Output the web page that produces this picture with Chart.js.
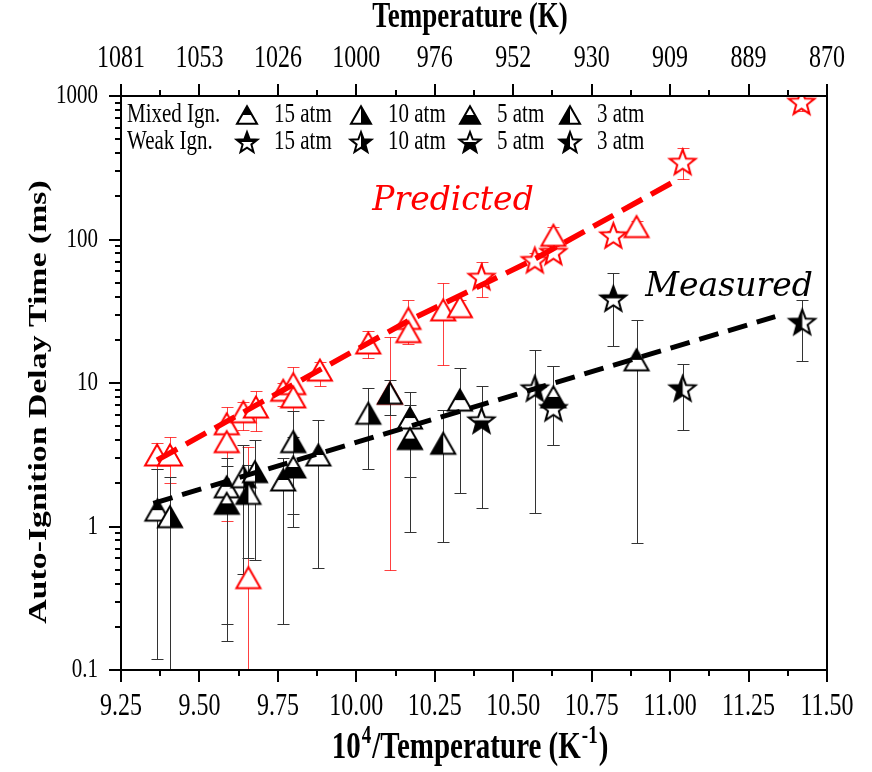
<!DOCTYPE html>
<html>
<head>
<meta charset="utf-8">
<script src="https://cdn.jsdelivr.net/npm/chart.js@4.4.0/dist/chart.umd.min.js"></script>
<style>
    html, body { margin: 0; padding: 0; background: #fff; }
    #wrap { width: 872px; height: 772px; }
</style>
</head>
<body>
<div id="wrap"><canvas id="chart" width="872" height="772"></canvas></div>
<script>
// values (x = 10^4/T, y = delay in ms)
var predTriX  = [9.365, 9.406, 9.587, 9.587, 9.640, 9.680, 9.656, 9.767, 9.799, 9.799, 9.884, 10.038, 10.107, 10.166, 10.166, 10.277, 10.330, 10.628, 10.893];
var predTriY  = [3.15, 3.15, 5.2, 3.9, 6.3, 6.8, 0.44, 8.9, 9.9, 8.0, 12.3, 19.0, 8.5, 28.2, 22.8, 32.3, 34.0, 107, 123];
var predTriLo = [2.5, 2.0, 4.9, 1.1, 4.7, 4.6, 0.08, 6.9, 3.4, 7.1, 9.6, 14.9, 0.5, 22, 18.7, 13.3, 30, 95, 105];
var predTriHi = [3.8, 4.2, 6.8, 4.6, 7.4, 8.8, 3.6, 10.0, 13, 9.5, 14, 23, 21, 38, 27, 50, 38, 123, 135];

var predStarX  = [10.399, 10.569, 10.628, 10.819, 11.040, 11.419];
var predStarY  = [55, 72, 82, 107, 348, 912];
var predStarLo = [40, 66, 75, 100, 263, 780];
var predStarHi = [70, 80, 90, 114, 433, 1000];

var mixX   = [9.366, 9.406, 9.587, 9.587, 9.640, 9.656, 9.677, 9.767, 9.799, 9.799, 9.879, 10.038, 10.107, 10.171, 10.171, 10.277, 10.330, 10.628, 10.893];
var mixY   = [1.30, 1.17, 1.89, 1.45, 2.22, 1.70, 2.41, 2.11, 3.9, 2.6, 3.15, 6.15, 8.5, 5.7, 4.1, 3.8, 7.6, 8.0, 14.5];
var mixLo  = [0.12, 0.09, 0.21, 0.16, 0.47, 0.6, 0.58, 0.21, 1.22, 1.0, 0.51, 2.5, 6.0, 2.2, 0.91, 0.78, 1.7, 3.7, 0.77];
var mixHi  = [2.5, 2.2, 3.0, 2.66, 3.7, 2.7, 4.0, 3.0, 6.4, 4.2, 5.5, 9.3, 10.5, 8.6, 7.0, 6.5, 12.8, 13.2, 27.5];
var mixAtm = [15, 10, 15, 5, 10, 3, 10, 15, 10, 5, 15, 10, 3, 15, 5, 3, 15, 5, 15];

var weakX   = [10.399, 10.569, 10.628, 10.819, 11.040, 11.421];
var weakY   = [5.5, 9.2, 6.7, 38.9, 9.2, 26.7];
var weakLo  = [1.35, 1.25, 3.7, 18.1, 4.7, 14.3];
var weakHi  = [9.6, 17, 13.2, 58, 13.5, 37.9];
var weakAtm = [5, 10, 15, 15, 3, 3];

var predFitX = [9.365, 9.766, 10.171, 10.563, 11.022];
var predFitY = [2.9, 8.9, 27.5, 72, 260];
var measFitX = [9.353, 11.335];
var measFitY = [1.45, 29];

var tempLabels = ['1081', '1053', '1026', '1000', '976', '952', '930', '909', '889', '870'];
var atmLevels = [15, 10, 5, 3];

// which half of a marker is filled for each pressure
var halfByAtm = {15: 'top', 10: 'right', 5: 'bottom', 3: 'left'};

var SERIF = "'Liberation Serif', 'Times New Roman', serif";
var STRETCH = 1.3; // the source figure is taller than wide

function toPoints(xs, ys) {
    return xs.map(function (x, i) { return {x: x, y: ys[i]}; });
}

function markerCanvas(shape, half, color, size) {
    var W = Math.ceil(size + 8);
    var c = document.createElement('canvas');
    c.width = W; c.height = W;
    var g = c.getContext('2d');
    var cx = W / 2, cy = W / 2;

    function path() {
        g.beginPath();
        if (shape === 'tri') {
            var h = size * 0.87;
            g.moveTo(cx, cy - h / 2);
            g.lineTo(cx + size / 2, cy + h / 2);
            g.lineTo(cx - size / 2, cy + h / 2);
        } else {
            var R = size / 2, r = R * 0.42, off = R * 0.095;
            for (var i = 0; i < 10; i++) {
                var rr = i % 2 ? r : R;
                var ang = -Math.PI / 2 + i * Math.PI / 5;
                g.lineTo(cx + rr * Math.cos(ang), cy + off + rr * Math.sin(ang));
            }
        }
        g.closePath();
    }

    path();
    g.fillStyle = '#fff';
    g.fill();
    if (half) {
        g.save();
        g.beginPath();
        if (half === 'top') g.rect(0, 0, W, cy);
        if (half === 'bottom') g.rect(0, cy, W, W - cy);
        if (half === 'left') g.rect(0, 0, cx, W);
        if (half === 'right') g.rect(cx, 0, W - cx, W);
        g.clip();
        path();
        g.fillStyle = color;
        g.fill();
        g.restore();
    }
    path();
    g.lineWidth = 2;
    g.strokeStyle = color;
    g.stroke();
    return c;
}

var redTri = markerCanvas('tri', null, '#ff0000', 24);
var redStar = markerCanvas('star', null, '#ff0000', 27);
var triMarks = {}, starMarks = {}, legTri = {}, legStar = {};
atmLevels.forEach(function (p) {
    triMarks[p] = markerCanvas('tri', halfByAtm[p], '#000', 24);
    starMarks[p] = markerCanvas('star', halfByAtm[p], '#000', 27);
    legTri[p] = markerCanvas('tri', halfByAtm[p], '#000', 20);
    legStar[p] = markerCanvas('star', halfByAtm[p], '#000', 22);
});

function stretchedText(ctx, text, x, y, font, color, align) {
    ctx.save();
    ctx.translate(x, y);
    ctx.scale(1, STRETCH);
    ctx.font = font;
    ctx.fillStyle = color;
    ctx.textAlign = align || 'left';
    ctx.textBaseline = 'middle';
    ctx.fillText(text, 0, 0);
    ctx.restore();
}

function drawErrorBars(chart, xs, lo, hi, color) {
    var ctx = chart.ctx, sx = chart.scales.x, sy = chart.scales.y, a = chart.chartArea;
    ctx.save();
    ctx.beginPath();
    ctx.rect(a.left, a.top, a.right - a.left, a.bottom - a.top);
    ctx.clip();
    ctx.strokeStyle = color;
    ctx.lineWidth = 1;
    for (var i = 0; i < xs.length; i++) {
        var px = Math.round(sx.getPixelForValue(xs[i])) + 0.5;
        var p1 = Math.round(sy.getPixelForValue(lo[i])) + 0.5;
        var p2 = Math.round(sy.getPixelForValue(hi[i])) + 0.5;
        ctx.beginPath();
        ctx.moveTo(px, p1); ctx.lineTo(px, p2);
        ctx.moveTo(px - 6, p1); ctx.lineTo(px + 6, p1);
        ctx.moveTo(px - 6, p2); ctx.lineTo(px + 6, p2);
        ctx.stroke();
    }
    ctx.restore();
}

var errorBarPlugin = {
    id: 'errorBars',
    beforeDatasetsDraw: function (chart) {
        drawErrorBars(chart, predTriX, predTriLo, predTriHi, 'rgba(255,0,0,0.75)');
        drawErrorBars(chart, predStarX, predStarLo, predStarHi, 'rgba(255,0,0,0.75)');
        drawErrorBars(chart, mixX, mixLo, mixHi, '#333');
        drawErrorBars(chart, weakX, weakLo, weakHi, '#333');
    }
};

var framePlugin = {
    id: 'frame',
    afterDraw: function (chart) {
        var ctx = chart.ctx, a = chart.chartArea;
        var sx = chart.scales.x, sx2 = chart.scales.x2, sy = chart.scales.y;
        ctx.save();
        ctx.strokeStyle = '#000';
        ctx.lineWidth = 2;
        ctx.strokeRect(a.left, a.top, a.right - a.left, a.bottom - a.top);

        // major + minor ticks, pointing out of the frame
        ctx.beginPath();
        for (var k = 0; k <= 18; k++) {
            var px = Math.round(sx.getPixelForValue(9.25 + k * 0.125));
            var len = k % 2 ? 6 : 12;
            ctx.moveTo(px, a.bottom); ctx.lineTo(px, a.bottom + len);
            ctx.moveTo(px, a.top); ctx.lineTo(px, a.top - len);
        }
        for (var d = -1; d <= 3; d++) {
            for (var m = 1; m <= 9; m++) {
                var v = m * Math.pow(10, d);
                if (v > 1000.001) break;
                var py = Math.round(sy.getPixelForValue(v));
                ctx.moveTo(a.left, py); ctx.lineTo(a.left - (m === 1 ? 12 : 6), py);
            }
        }
        ctx.stroke();

        // tick labels from the scales' own ticks (drawn tall like the source)
        var xf = '24px ' + SERIF, yf = '21px ' + SERIF;
        sx.ticks.forEach(function (t) {
            stretchedText(ctx, t.value.toFixed(2), sx.getPixelForValue(t.value), 707, xf, '#000', 'center');
        });
        sx2.ticks.forEach(function (t) {
            stretchedText(ctx, tempLabels[Math.round((t.value - 9.25) / 0.25)], sx2.getPixelForValue(t.value), 59, xf, '#000', 'center');
        });
        sy.ticks.forEach(function (t) {
            var l = Math.log10(t.value);
            if (Math.abs(l - Math.round(l)) < 1e-6) {
                stretchedText(ctx, String(+t.value.toPrecision(3)), 98, sy.getPixelForValue(t.value), yf, '#000', 'right');
            }
        });

        var cx = (a.left + a.right) / 2;
        // top title
        stretchedText(ctx, 'Temperature (K)', cx - 4, 18, 'bold 27px ' + SERIF, '#000', 'center');

        // bottom title with superscripts
        var parts = [['10', false], ['4', true], ['/Temperature (K', false], ['-1', true], [')', false]];
        var big = 'bold 29px ' + SERIF, small = 'bold 19px ' + SERIF;
        var total = 0;
        parts.forEach(function (p) { ctx.font = p[1] ? small : big; total += ctx.measureText(p[0]).width + (p[1] ? 2 : 0); });
        var tx = cx - 4 - total / 2;
        parts.forEach(function (p) {
            ctx.font = p[1] ? small : big;
            var w = ctx.measureText(p[0]).width + (p[1] ? 2 : 0);
            stretchedText(ctx, p[0], tx + (p[1] ? 1 : 0), p[1] ? 737 : 748, p[1] ? small : big, '#000', 'left');
            tx += w;
        });

        // y title, stretched along its length
        ctx.save();
        ctx.translate(39, 402);
        ctx.rotate(-Math.PI / 2);
        ctx.scale(STRETCH, 1);
        ctx.font = 'bold 26px ' + SERIF;
        ctx.fillStyle = '#000';
        ctx.textAlign = 'center';
        ctx.textBaseline = 'middle';
        ctx.fillText('Auto-Ignition Delay Time (ms)', 0, 0);
        ctx.restore();

        // legend inside the frame
        var lf = '21px ' + SERIF;
        var row1 = a.top + 19, row2 = a.top + 46;
        stretchedText(ctx, 'Mixed Ign.', a.left + 6, row1, lf, '#000');
        stretchedText(ctx, 'Weak Ign.', a.left + 6, row2, lf, '#000');
        var markX = [126, 240, 349, 449];
        atmLevels.forEach(function (p, i) {
            var mx = a.left + markX[i];
            var t = legTri[p], s = legStar[p];
            ctx.drawImage(t, mx - t.width / 2, row1 - t.height / 2);
            ctx.drawImage(s, mx - s.width / 2, row2 - s.height / 2);
            stretchedText(ctx, p + ' atm', mx + 27, row1, lf, '#000');
            stretchedText(ctx, p + ' atm', mx + 27, row2, lf, '#000');
        });

        // curve labels
        ctx.font = 'italic 33px "DejaVu Serif", serif';
        ctx.textAlign = 'center';
        ctx.textBaseline = 'middle';
        ctx.fillStyle = '#ff0000';
        ctx.fillText('Predicted', sx.getPixelForValue(10.308), sy.getPixelForValue(185));
        ctx.fillStyle = '#000';
        ctx.fillText('Measured', sx.getPixelForValue(11.188), sy.getPixelForValue(46.7));
        ctx.restore();
    }
};

var chart = new Chart(document.getElementById('chart'), {
    type: 'scatter',
    data: {
        datasets: [
            {
                label: 'Predicted fit', data: toPoints(predFitX, predFitY), showLine: true,
                borderColor: '#ff0000', borderWidth: 5.5, borderDash: [23, 10], pointRadius: 0, order: 0
            },
            {
                label: 'Measured fit', data: toPoints(measFitX, measFitY), showLine: true,
                borderColor: '#000', borderWidth: 5, borderDash: [20, 10], pointRadius: 0, order: 0
            },
            {
                label: 'Mixed Ign.', data: toPoints(mixX, mixY),
                pointStyle: mixAtm.map(function (p) { return triMarks[p]; }), pointRadius: 12, order: 1
            },
            {
                label: 'Weak Ign.', data: toPoints(weakX, weakY),
                pointStyle: weakAtm.map(function (p) { return starMarks[p]; }), pointRadius: 12, order: 1
            },
            {
                label: 'Predicted (tri)', data: toPoints(predTriX, predTriY),
                pointStyle: redTri, pointRadius: 12, order: 2
            },
            {
                label: 'Predicted (star)', data: toPoints(predStarX, predStarY),
                pointStyle: redStar, pointRadius: 12, order: 2
            }
        ]
    },
    options: {
        responsive: false,
        animation: false,
        devicePixelRatio: 1,
        layout: {padding: {left: 0, right: 45, top: 0, bottom: 0}},
        plugins: {legend: {display: false}, tooltip: {enabled: false}},
        scales: {
            x: {
                type: 'linear', position: 'bottom', min: 9.25, max: 11.5,
                afterFit: function (s) { s.height = 102; },
                grid: {display: false},
                border: {display: false},
                ticks: {stepSize: 0.25, autoSkip: false, display: false}
            },
            x2: {
                type: 'linear', position: 'top', min: 9.25, max: 11.5,
                afterFit: function (s) { s.height = 96; },
                grid: {display: false},
                border: {display: false},
                ticks: {stepSize: 0.25, autoSkip: false, display: false}
            },
            y: {
                type: 'logarithmic', min: 0.1, max: 1000,
                afterFit: function (s) { s.width = 121; },
                grid: {display: false},
                border: {display: false},
                ticks: {autoSkip: false, display: false}
            }
        }
    },
    plugins: [errorBarPlugin, framePlugin]
});
</script>
</body>
</html>
